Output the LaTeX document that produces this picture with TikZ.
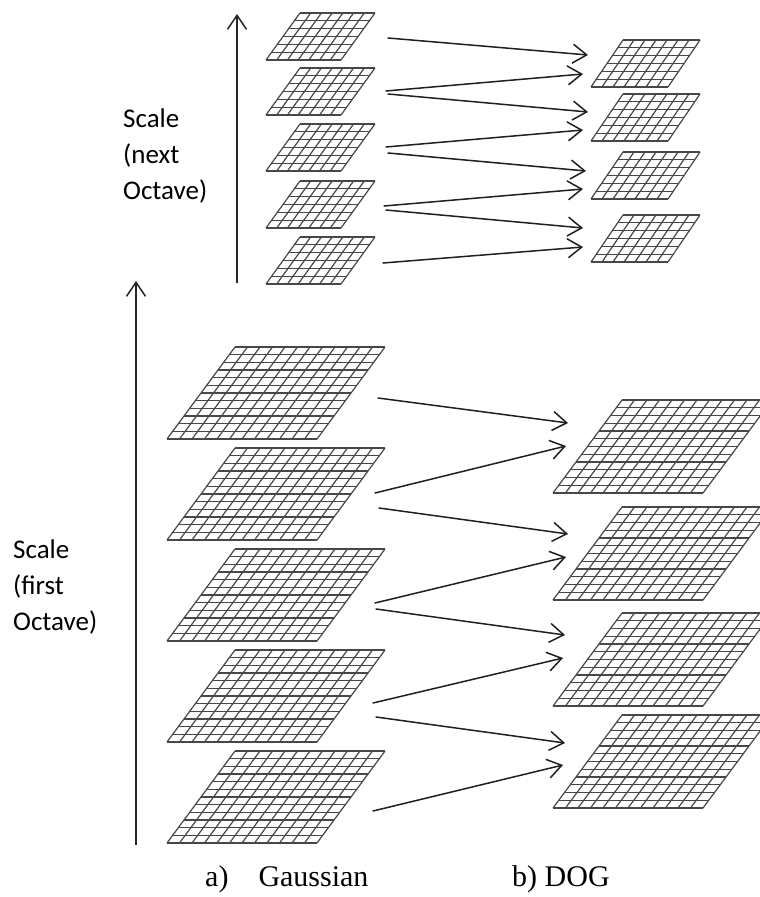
\documentclass[tikz,border=0pt]{standalone}
\usepackage{fontspec}
\setmainfont{Liberation Serif}
\newfontfamily\calibfont{Carlito}
\usetikzlibrary{arrows.meta}
\tikzset{
  gridline/.style={draw=black!72, line width=1.2pt},
  conn/.style={-{Straight Barb[length=14pt,width=19pt,line width=1.5pt]}, line width=1.5pt, draw=black!88, line cap=round},
  axis/.style={-{Straight Barb[length=14pt,width=19pt,line width=1.5pt]}, line width=1.6pt, draw=black!85},
  lbl/.style={font=\calibfont\fontsize{27}{32}\selectfont, anchor=base west, inner sep=0pt},
  capt/.style={font=\fontsize{30}{36}\selectfont, anchor=base west, inner sep=0pt},
  pics/pgrid/.style n args={5}{code={
    \foreach \i in {0,...,#5}{
      \draw[gridline] ({#3*(1-\i/#5)},{#2*\i/#5}) -- ++(#1,0);
    }
    \foreach \j in {0,...,#4}{
      \draw[gridline] ({#1*\j/#4+#3},0) -- ({#1*\j/#4},#2);
    }
  }}
}
\begin{document}
\begin{tikzpicture}[x=1pt,y=-1pt]
\useasboundingbox (0,0) rectangle (760,897);
\clip (0,0) rectangle (760,897);

% ---- next octave: Gaussian grids
\foreach \t in {13,68,124,181,237}{
  \pic at (266,\t) {pgrid={75}{47}{34}{7}{6}};
}
% ---- next octave: DOG grids
\foreach \t in {40,94,152,215}{
  \pic at (591,\t) {pgrid={77}{47}{32}{7}{6}};
}
% ---- first octave: Gaussian grids
\foreach \t in {347,448,549,650,751}{
  \pic at (167,\t) {pgrid={150}{92}{68}{12}{12}};
}
% ---- first octave: DOG grids
\foreach \t in {400,507,613,715}{
  \pic at (553,\t) {pgrid={150}{93}{69}{12}{12}};
}

% ---- scale axes
\coordinate (axTa) at (237,283);
\coordinate (axTb) at (237,14);
\coordinate (axBa) at (136,845);
\coordinate (axBb) at (136,281);
\draw[axis] (axTa) -- (axTb);
\draw[axis] (axBa) -- (axBb);

% ---- labels
\node[lbl] (ln1) at (123,127) {Scale};
\node[lbl] (ln2) at (123,163) {(next};
\node[lbl] (ln3) at (123,199) {Octave)};
\node[lbl] (lf1) at (13,558) {Scale};
\node[lbl] (lf2) at (13,594) {(first};
\node[lbl] (lf3) at (13,630) {Octave)};
\node[capt] (ca) at (205,886) {a)\quad Gaussian};
\node[capt] (cb) at (512,886) {b) DOG};

% ---- next octave connectors
\coordinate (ta1) at (388,38);  \coordinate (tb1) at (588,55);
\coordinate (ta2) at (386,91);  \coordinate (tb2) at (583,74);
\coordinate (ta3) at (388,94);  \coordinate (tb3) at (588,112);
\coordinate (ta4) at (386,147); \coordinate (tb4) at (583,130);
\coordinate (ta5) at (388,153); \coordinate (tb5) at (586,171);
\coordinate (ta6) at (384,206); \coordinate (tb6) at (583,189);
\coordinate (ta7) at (386,210); \coordinate (tb7) at (583,228);
\coordinate (ta8) at (383,263); \coordinate (tb8) at (583,247);
\foreach \k in {1,...,8}{ \draw[conn] (ta\k) -- (tb\k); }

% ---- first octave connectors
\coordinate (ba1) at (378,398); \coordinate (bb1) at (568,423);
\coordinate (ba2) at (375,493); \coordinate (bb2) at (566,446);
\coordinate (ba3) at (379,508); \coordinate (bb3) at (568,534);
\coordinate (ba4) at (375,603); \coordinate (bb4) at (566,557);
\coordinate (ba5) at (376,609); \coordinate (bb5) at (565,635);
\coordinate (ba6) at (373,703); \coordinate (bb6) at (563,658);
\coordinate (ba7) at (376,717); \coordinate (bb7) at (565,743);
\coordinate (ba8) at (373,811); \coordinate (bb8) at (563,765);
\foreach \k in {1,...,8}{ \draw[conn] (ba\k) -- (bb\k); }
\end{tikzpicture}
\end{document}
